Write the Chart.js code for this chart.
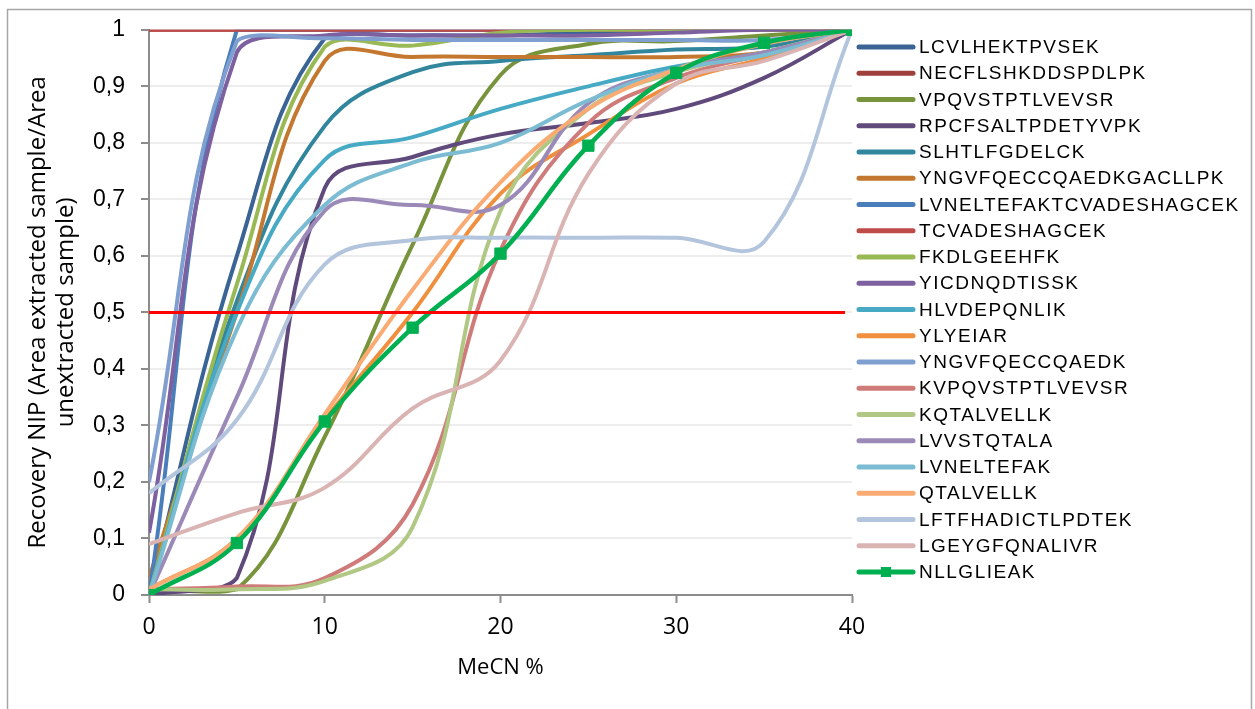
<!DOCTYPE html>
<html>
<head>
<meta charset="utf-8">
<script src="https://cdn.jsdelivr.net/npm/chart.js@4.4.1/dist/chart.umd.min.js"></script>
<style>
    html, body { margin: 0; padding: 0; background: #fff; }
    canvas { display: block; }
</style>
</head>
<body>
<canvas id="chart" width="1255" height="709"></canvas>
<script>
// MeCN % (x) and recovery ratios
const mecn = [0, 5, 10, 15, 20, 25, 30, 35, 40];

const LCVLHEKTPVSEK           = [0, 0.60, 0.985, 0.99, 0.99, 0.995, 1, 1, 1];
const NECFLSHKDDSPDLPK        = [1, 1, 1, 1, 1, 1, 1, 1, 1];
const VPQVSTPTLVEVSR          = [0.01, 0.01, 0.28, 0.62, 0.92, 0.975, 0.98, 0.99, 1];
const RPCFSALTPDETYVPK        = [0, 0.03, 0.72, 0.775, 0.815, 0.835, 0.86, 0.915, 1];
const SLHTLFGDELCK            = [0, 0.52, 0.83, 0.925, 0.945, 0.955, 0.965, 0.97, 1];
const YNGVFQECCQAEDKGACLLPK   = [0.03, 0.50, 0.945, 0.952, 0.952, 0.952, 0.952, 0.96, 1];
const LVNELTEFAKTCVADESHAGCEK = [0, 1, 1, 1, 1, 1, 1, 1, 1];
const TCVADESHAGCEK           = [1, 1, 1, 1, 1, 1, 1, 1, 1];
const FKDLGEEHFK              = [0, 0.55, 0.97, 0.972, 0.995, 1, 1, 1, 1];
const YICDNQDTISSK            = [0.11, 0.96, 0.99, 0.99, 0.99, 0.99, 0.995, 1, 1];
const HLVDEPQNLIK             = [0, 0.50, 0.77, 0.81, 0.86, 0.90, 0.935, 0.96, 1];
const YLYEIAR                 = [0.01, 0.10, 0.31, 0.50, 0.71, 0.815, 0.905, 0.95, 1];
const YNGVFQECCQAEDK          = [0.20, 0.98, 0.985, 0.982, 0.982, 0.982, 0.982, 0.982, 1];
const KVPQVSTPTLVEVSR         = [0.01, 0.015, 0.03, 0.16, 0.61, 0.835, 0.915, 0.957, 1];
const KQTALVELLK              = [0.01, 0.01, 0.025, 0.12, 0.68, 0.86, 0.925, 0.96, 1];
const LVVSTQTALA              = [0, 0.35, 0.68, 0.69, 0.69, 0.87, 0.93, 0.96, 1];
const LVNELTEFAK              = [0, 0.47, 0.69, 0.765, 0.80, 0.875, 0.93, 0.955, 1];
const QTALVELLK               = [0.01, 0.10, 0.32, 0.54, 0.73, 0.86, 0.93, 0.975, 1];
const LFTFHADICTLPDTEK        = [0.18, 0.31, 0.585, 0.628, 0.632, 0.632, 0.632, 0.625, 1];
const LGEYGFQNALIVR           = [0.09, 0.145, 0.19, 0.33, 0.415, 0.745, 0.905, 0.945, 1];
const NLLGLIEAK               = [0, 0.092, 0.307, 0.473, 0.604, 0.795, 0.924, 0.977, 1];

const peptides = [
    'LCVLHEKTPVSEK', 'NECFLSHKDDSPDLPK', 'VPQVSTPTLVEVSR', 'RPCFSALTPDETYVPK',
    'SLHTLFGDELCK', 'YNGVFQECCQAEDKGACLLPK', 'LVNELTEFAKTCVADESHAGCEK',
    'TCVADESHAGCEK', 'FKDLGEEHFK', 'YICDNQDTISSK', 'HLVDEPQNLIK', 'YLYEIAR',
    'YNGVFQECCQAEDK', 'KVPQVSTPTLVEVSR', 'KQTALVELLK', 'LVVSTQTALA',
    'LVNELTEFAK', 'QTALVELLK', 'LFTFHADICTLPDTEK', 'LGEYGFQNALIVR', 'NLLGLIEAK',
];
const seriesValues = [
    LCVLHEKTPVSEK, NECFLSHKDDSPDLPK, VPQVSTPTLVEVSR, RPCFSALTPDETYVPK,
    SLHTLFGDELCK, YNGVFQECCQAEDKGACLLPK, LVNELTEFAKTCVADESHAGCEK,
    TCVADESHAGCEK, FKDLGEEHFK, YICDNQDTISSK, HLVDEPQNLIK, YLYEIAR,
    YNGVFQECCQAEDK, KVPQVSTPTLVEVSR, KQTALVELLK, LVVSTQTALA,
    LVNELTEFAK, QTALVELLK, LFTFHADICTLPDTEK, LGEYGFQNALIVR, NLLGLIEAK,
];

// 50 % recovery threshold (red rule)
const thresholdX = [0, 39.6];
const thresholdY = [0.5, 0.5];

const xTickLabels = ['0', '10', '20', '30', '40'];
const yTickLabels = ['0', '0,1', '0,2', '0,3', '0,4', '0,5', '0,6', '0,7', '0,8', '0,9', '1'];

(() => {
    'use strict';

    const colors = [
        '#3b6496', '#a0403d', '#77933c', '#604a7b', '#31859c', '#c4772f',
        '#4a7ebb', '#be4b48', '#98b954', '#7d60a0', '#46aac5', '#f0903f',
        '#7f9fd0', '#cf7b79', '#b0c883', '#9b89b8', '#7bbcd2', '#f9ab73',
        '#b3c4dd', '#dab4b3', '#00b050',
    ];
    const MARKED = 'NLLGLIEAK';

    const datasets = peptides.map((name, i) => ({
        label: name,
        data: mecn.map((x, j) => ({ x, y: seriesValues[i][j] })),
        borderColor: colors[i],
        backgroundColor: colors[i],
        borderWidth: name === MARKED ? 4.5 : 4,
        pointRadius: name === MARKED ? 8 : 0,
        pointStyle: 'rect',
        pointBorderWidth: 1,
        order: -i,               // later series on top, like Excel
    }));

    datasets.push({
        label: '__threshold',
        data: thresholdX.map((x, j) => ({ x, y: thresholdY[j] })),
        borderColor: '#ff0000',
        borderWidth: 3,
        tension: 0,
        pointRadius: 0,
        order: -100,
    });

    // White page + grey frame round the whole figure
    const framePlugin = {
        id: 'frame',
        beforeDraw(chart) {
            const ctx = chart.ctx;
            ctx.save();
            ctx.fillStyle = '#fff';
            ctx.fillRect(0, 0, chart.width, chart.height);
            ctx.strokeStyle = '#a6a6a6';
            ctx.lineWidth = 1.5;
            ctx.strokeRect(7.5, 9.5, 1244, 720);
            ctx.restore();
        },
    };

    // Legend column on the right, Excel style
    const legendPlugin = {
        id: 'sideLegend',
        afterDraw(chart) {
            const ctx = chart.ctx;
            const x0 = chart.chartArea.right + 7;
            const x1 = x0 + 54;
            const top = 47, step = 26.25;
            ctx.save();
            ctx.font = "19px 'Liberation Sans', Arial, sans-serif";
            ctx.textBaseline = 'middle';
            ctx.fillStyle = '#000';
            if ('letterSpacing' in ctx) ctx.letterSpacing = '1.5px';
            chart.data.datasets.forEach((ds, i) => {
                if (ds.label === '__threshold') return;
                const y = top + i * step;
                ctx.strokeStyle = ds.borderColor;
                ctx.lineWidth = 5;
                ctx.lineCap = 'round';
                ctx.beginPath();
                ctx.moveTo(x0, y);
                ctx.lineTo(x1, y);
                ctx.stroke();
                if (ds.label === MARKED) {
                    ctx.fillStyle = ds.borderColor;
                    ctx.fillRect((x0 + x1) / 2 - 5, y - 5, 10, 10);
                    ctx.fillStyle = '#000';
                }
                ctx.fillText(ds.label, x1 + 6, y + 1);
            });
            ctx.restore();
        },
    };

    const axisGrey = '#8c8c8c';

    new Chart(document.getElementById('chart'), {
        type: 'line',
        data: { datasets },
        plugins: [framePlugin, legendPlugin],
        options: {
            responsive: false,
            animation: false,
            devicePixelRatio: 1,
            layout: { padding: { left: 15, top: 29, right: 403, bottom: 19 } },
            elements: {
                line: { tension: 0.4, capBezierPoints: true },
            },
            plugins: {
                legend: { display: false },
                tooltip: { enabled: false },
            },
            scales: {
                x: {
                    type: 'linear',
                    min: 0,
                    max: 40,
                    afterFit: (s) => { s.height = 95; },
                    grid: {
                        drawOnChartArea: false,
                        tickLength: 8,
                        tickColor: axisGrey,
                        tickWidth: 2,
                    },
                    border: { color: axisGrey, width: 2 },
                    ticks: {
                        stepSize: 10,
                        padding: 11,
                        maxRotation: 0,
                        color: '#000',
                        font: { family: "'Open Sans', sans-serif", size: 23 },
                        callback: (v, i) => xTickLabels[i],
                    },
                    title: {
                        display: true,
                        text: 'MeCN %',
                        color: '#000',
                        font: { family: "'Open Sans', sans-serif", size: 22, lineHeight: 1.27 },
                        padding: { top: 0, bottom: 8 },
                    },
                },
                y: {
                    min: 0,
                    max: 1,
                    afterFit: (s) => { s.width = 134; },
                    grid: {
                        color: '#ededed',
                        lineWidth: 2,
                        tickLength: 8,
                        tickColor: axisGrey,
                        tickWidth: 2,
                    },
                    border: { color: axisGrey, width: 2 },
                    ticks: {
                        stepSize: 0.1,
                        padding: 16,
                        color: '#000',
                        font: { family: "'Liberation Sans', Arial, sans-serif", size: 23 },
                        callback: (v, i) => yTickLabels[i],
                    },
                    title: {
                        display: true,
                        text: ['Recovery NIP (Area extracted sample/Area', 'unextracted sample)'],
                        color: '#000',
                        font: { family: "'Open Sans', sans-serif", size: 24, lineHeight: 28 / 24 },
                        padding: { top: 9, bottom: 0 },
                    },
                },
            },
        },
    });
})();
</script>
</body>
</html>
